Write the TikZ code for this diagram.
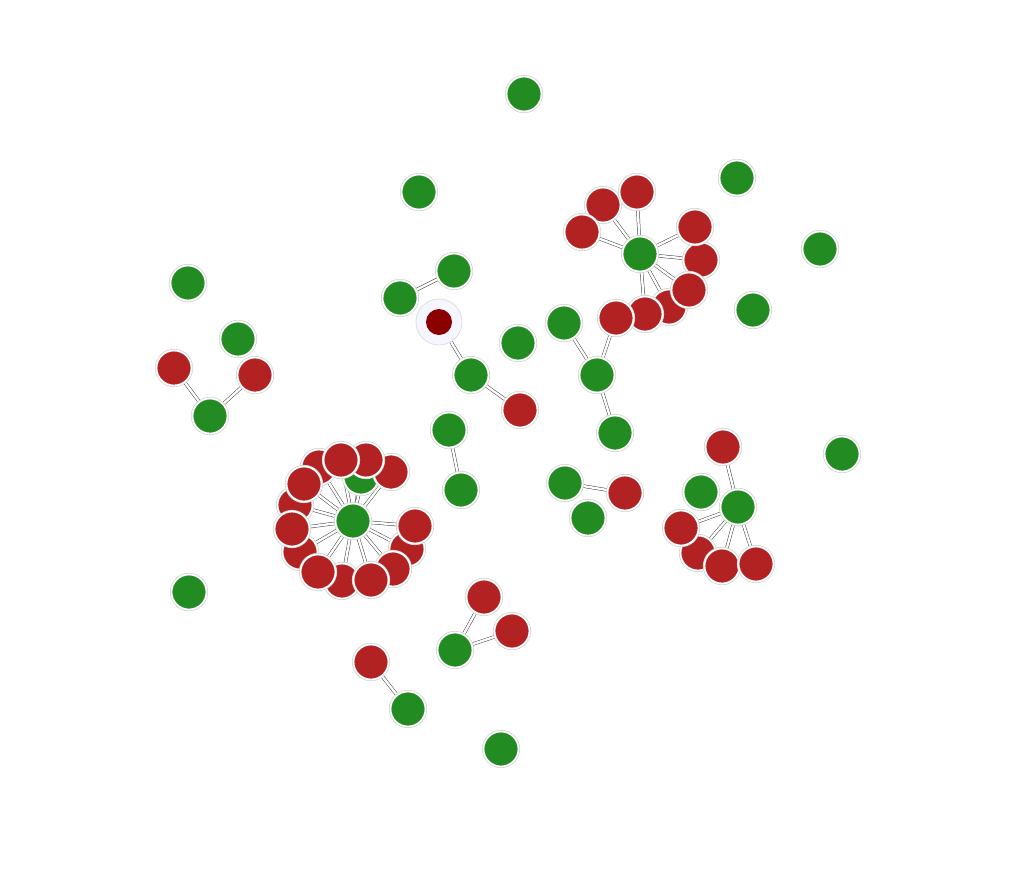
\documentclass[tikz,border=0pt]{standalone}
\usetikzlibrary{backgrounds}
\definecolor{gnode}{HTML}{228B22}
\definecolor{rnode}{HTML}{B22222}
\definecolor{selnode}{HTML}{8B0000}
\definecolor{halo}{HTML}{F6F6FF}

\begin{document}
\begin{tikzpicture}[
    x=0.5pt, y=-0.5pt,
    vx/.style={circle, inner sep=0pt, minimum size=17.5pt,
        preaction={draw=gray!35, line width=1.6pt}, draw=white, line width=0.9pt},
    gv/.style={vx, fill=gnode},
    rv/.style={vx, fill=rnode},
    sel/.style={circle, inner sep=0pt, minimum size=13pt, fill=selnode},
    selhalo/.style={circle, inner sep=0pt, minimum size=23pt, fill=halo, draw=gray!25, line width=0.4pt},
    edge/.style={draw=gray!50!black, line width=0.25pt, double=white, double distance=1.2pt}
]
\useasboundingbox (0,0) rectangle (1034,868);

% loose nodes
\node[gv] (top) at (524,94) {};
\node[gv] (ua) at (419,192) {};
\node[gv] (ub) at (737,178) {};
\node[gv] (uc) at (820,249) {};
\node[gv] (ud) at (753,310) {};
\node[gv] (ue) at (188,283) {};
\node[gv] (uf) at (842,454) {};
\node[gv] (ug) at (189,592) {};
\node[gv] (uh) at (501,749) {};
\node[gv] (ui) at (238,339) {};
\node[gv] (uj) at (518,343) {};
\node[gv] (uk) at (588,518) {};
\node[gv] (ul) at (701,492) {};

% left pair
\node[rv] (la) at (174,368) {};
\node[rv] (lb) at (255,375) {};
\node[gv] (lhub) at (210,416) {};

% middle chains
\node[gv] (ma) at (454,271) {};
\node[gv] (mb) at (400,298) {};
\node[selhalo] (halo) at (439,322) {};
\node[sel] (pick) at (439,322) {};
\node[gv] (mc) at (471,375) {};
\node[rv] (md) at (520,410) {};
\node[gv] (me) at (449,430) {};
\node[gv] (mf) at (461,490) {};
\node[gv] (mg) at (565,483) {};
\node[rv] (mh) at (625,493) {};
\node[gv] (yi) at (564,323) {};
\node[gv] (yhub) at (597,375) {};
\node[gv] (yk) at (615,433) {};

% big cluster
\node[gv] (bin) at (361,477) {};
\node[rv] (b1) at (319,467) {};
\node[rv] (b2) at (391,472) {};
\node[rv] (b3) at (366,460) {};
\node[rv] (b4) at (341,460) {};
\node[rv] (b5) at (295,505) {};
\node[rv] (b6) at (304,484) {};
\node[rv] (b7) at (300,552) {};
\node[rv] (b8) at (292,529) {};
\node[rv] (b9) at (342,581) {};
\node[rv] (b10) at (318,572) {};
\node[rv] (b11) at (407,549) {};
\node[rv] (b12) at (393,569) {};
\node[rv] (b13) at (371,580) {};
\node[rv] (b14) at (415,526) {};
\node[gv] (bhub) at (353,521) {};

% top right cluster
\node[rv] (t1) at (669,307) {};
\node[rv] (t2) at (645,314) {};
\node[rv] (t3) at (616,318) {};
\node[rv] (t4) at (701,260) {};
\node[rv] (t5) at (689,290) {};
\node[rv] (t6) at (695,227) {};
\node[rv] (t7) at (603,205) {};
\node[rv] (t8) at (582,232) {};
\node[rv] (t9) at (637,192) {};
\node[gv] (thub) at (640,254) {};

% right cluster
\node[rv] (r1) at (723,447) {};
\node[rv] (r2) at (698,553) {};
\node[rv] (r3) at (681,528) {};
\node[rv] (r4) at (722,566) {};
\node[rv] (r5) at (756,564) {};
\node[gv] (rhub) at (738,507) {};

% bottom
\node[rv] (pa) at (484,597) {};
\node[rv] (pb) at (512,631) {};
\node[gv] (phub) at (455,650) {};
\node[rv] (qa) at (371,662) {};
\node[gv] (qb) at (408,709) {};

\begin{scope}[on background layer]
\draw[edge] (la) -- (lhub) (lb) -- (lhub);
\draw[edge] (ma) -- (mb);
\draw[edge] (halo) -- (mc) (mc) -- (md);
\draw[edge] (me) -- (mf);
\draw[edge] (mg) -- (mh);
\draw[edge] (yi) -- (yhub) (t3) -- (yhub) (yhub) -- (yk);
\draw[edge] (bhub) -- (bin);
\draw[edge] (bhub) -- (b1) (bhub) -- (b2) (bhub) -- (b3) (bhub) -- (b4)
    (bhub) -- (b5) (bhub) -- (b6) (bhub) -- (b7) (bhub) -- (b8)
    (bhub) -- (b9) (bhub) -- (b10) (bhub) -- (b11) (bhub) -- (b12)
    (bhub) -- (b13) (bhub) -- (b14);
\draw[edge] (thub) -- (t1) (thub) -- (t2) (thub) -- (t4) (thub) -- (t5)
    (thub) -- (t6) (thub) -- (t7) (thub) -- (t8) (thub) -- (t9);
\draw[edge] (r1) -- (rhub) (rhub) -- (r2) (rhub) -- (r3) (rhub) -- (r4) (rhub) -- (r5);
\draw[edge] (phub) -- (pa) (phub) -- (pb);
\draw[edge] (qa) -- (qb);
\end{scope}

\end{tikzpicture}
\end{document}
